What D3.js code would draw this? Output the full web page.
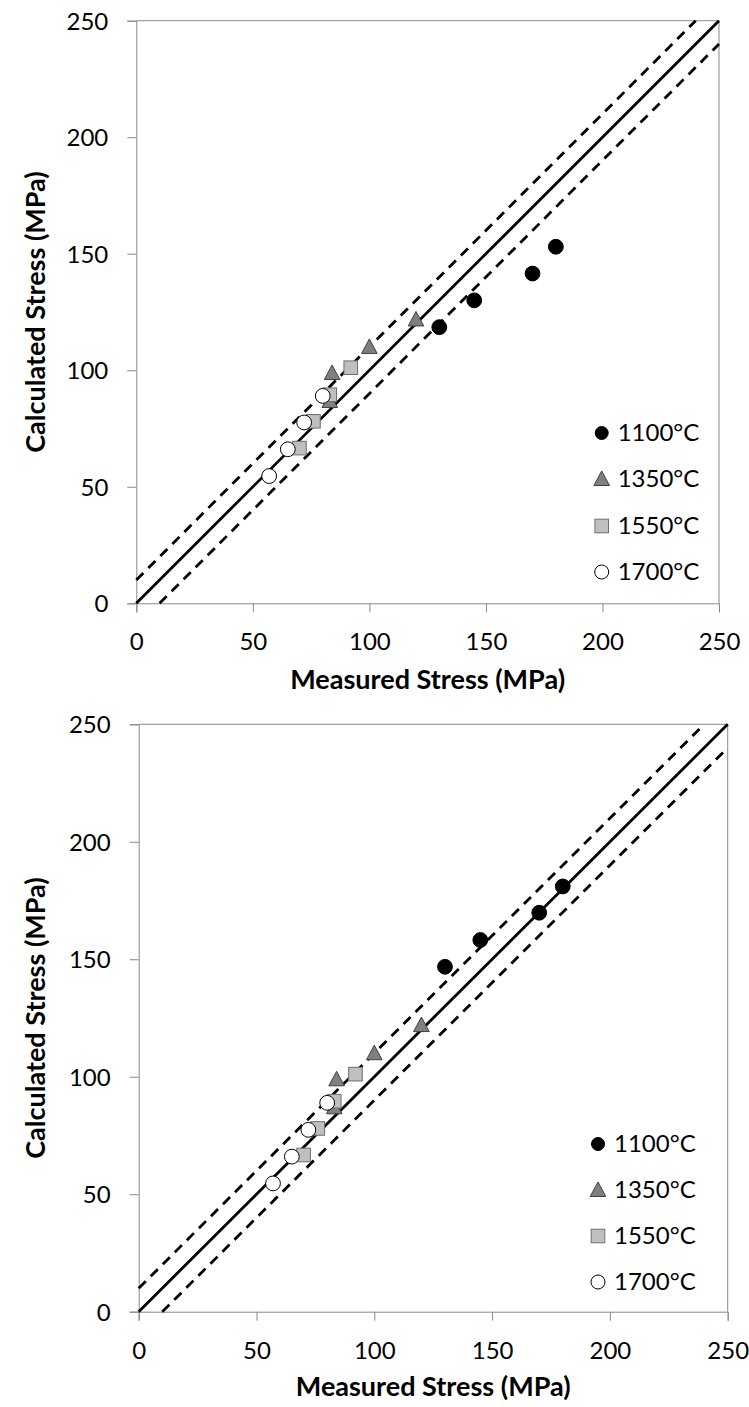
<!DOCTYPE html>
<html>
<head>
<meta charset="utf-8">
<script src="https://cdn.jsdelivr.net/npm/d3@7"></script>
<style>
  body { margin: 0; background: #fff; }
  svg { display: block; }
  text { font-family: Lato, "Open Sans", sans-serif; fill: #000; }
</style>
</head>
<body>
<div id="chart"></div>
<script>
'use strict';

// Series labels and axis ticks
var seriesNames = ['1100°C', '1350°C', '1550°C', '1700°C'];
var tickValues = [0, 50, 100, 150, 200, 250];

// Measured stress (x), shared by both panels
var measured1100 = [130, 145, 170, 180];
var measured1350 = [84, 83, 100, 120];
var measured1550 = [70, 76, 83, 92];
var measured1700 = [57, 65, 72, 80];

// Calculated stress (y), upper panel
var calcTop1100 = [118.5, 130, 141.5, 153];
var calcTop1350 = [98.8, 86.8, 110, 121.8];
var calcTop1550 = [66.6, 78.1, 89.5, 101.1];
var calcTop1700 = [54.6, 66.1, 77.6, 89];

// Calculated stress (y), lower panel
var calcBot1100 = [146.8, 158.2, 169.8, 181];
var calcBot1350 = [98.9, 87, 110, 122];
var calcBot1550 = [66.7, 78, 89.6, 101.1];
var calcBot1700 = [54.6, 66, 77.4, 88.9];

// Reference lines: y = x and y = x +/- 10
var refLines = [
    {x: [0, 250], y: [0, 250], dash: null},
    {x: [0, 240], y: [10, 250], dash: '10,7'},
    {x: [10, 250], y: [0, 240], dash: '10,7'}
];

var W = 749, H = 1407;
var svg = d3.select('#chart').append('svg').attr('width', W).attr('height', H);

var styles = [
    {shape: 'circle', fill: '#000', stroke: '#000'},
    {shape: 'triangle', fill: '#7f7f7f', stroke: '#404040'},
    {shape: 'square', fill: '#bfbfbf', stroke: '#6f6f6f'},
    {shape: 'circle', fill: '#fff', stroke: '#000'}
];

function zip(xs, ys) {
    return xs.map(function (x, i) { return {x: x, y: ys[i]}; });
}

function drawMarker(g, style, cx, cy, r) {
    r = r || 7.4;
    if (style.shape === 'circle') {
        g.append('circle').attr('cx', cx).attr('cy', cy).attr('r', r)
            .attr('fill', style.fill).attr('stroke', style.stroke).attr('stroke-width', 1);
    } else if (style.shape === 'square') {
        g.append('rect').attr('x', cx - 6.8).attr('y', cy - 6.8).attr('width', 13.6).attr('height', 13.6)
            .attr('fill', style.fill).attr('stroke', style.stroke).attr('stroke-width', 1);
    } else {
        g.append('path')
            .attr('d', 'M' + cx + ',' + (cy - 8) + 'L' + (cx + 7.8) + ',' + (cy + 6.5) + 'L' + (cx - 7.8) + ',' + (cy + 6.5) + 'Z')
            .attr('fill', style.fill).attr('stroke', style.stroke).attr('stroke-width', 1);
    }
}

function drawPanel(cfg) {
    var x = d3.scaleLinear().domain([0, 250]).range([cfg.left, cfg.left + cfg.width]);
    var y = d3.scaleLinear().domain([0, 250]).range([cfg.top + cfg.height, cfg.top]);
    var g = svg.append('g');

    // frame (top and right)
    g.append('path')
        .attr('d', 'M' + x(0) + ',' + y(250) + 'H' + x(250) + 'V' + y(0))
        .attr('fill', 'none').attr('stroke', '#898989').attr('stroke-width', 1);

    var xAxis = g.append('g')
        .attr('transform', 'translate(0,' + y(0) + ')')
        .call(d3.axisBottom(x).tickValues(tickValues).tickSize(9).tickPadding(21));
    var yAxis = g.append('g')
        .attr('transform', 'translate(' + x(0) + ',0)')
        .call(d3.axisLeft(y).tickValues(tickValues).tickSize(9).tickPadding(19));

    [xAxis, yAxis].forEach(function (a) {
        a.select('.domain').attr('stroke', '#898989');
        a.selectAll('.tick line').attr('stroke', '#898989');
        a.selectAll('.tick text').style('font-size', '24px').style('font-family', 'Lato, sans-serif').attr('fill', '#000');
    });
    yAxis.selectAll('.tick text').attr('dy', '0.35em');

    // reference lines
    refLines.forEach(function (l) {
        g.append('line')
            .attr('x1', x(l.x[0])).attr('y1', y(l.y[0]))
            .attr('x2', x(l.x[1])).attr('y2', y(l.y[1]))
            .attr('stroke', '#000').attr('stroke-width', 2.8)
            .attr('stroke-dasharray', l.dash);
    });

    // markers, in series order
    cfg.series.forEach(function (pts, i) {
        pts.forEach(function (p) {
            drawMarker(g, styles[i], x(p.x), y(p.y));
        });
    });

    // legend
    seriesNames.forEach(function (name, i) {
        var ly = cfg.legendY[i];
        drawMarker(g, styles[i], cfg.legendX, ly, i === 0 ? 6.5 : 7);
        g.append('text')
            .attr('x', cfg.legendX + 16).attr('y', ly).attr('dy', '0.35em')
            .style('font-size', '24px')
            .text(name);
    });

    // axis titles
    g.append('text')
        .attr('x', (x(0) + x(250)) / 2).attr('y', y(0) + cfg.xTitleGap)
        .attr('text-anchor', 'middle')
        .style('font-size', '27px').style('font-weight', 'bold')
        .text('Measured Stress (MPa)');
    g.append('text')
        .attr('transform', 'translate(' + 44.5 + ',' + ((y(0) + y(250)) / 2) + ') rotate(-90)')
        .attr('text-anchor', 'middle')
        .style('font-size', '27px').style('font-weight', 'bold')
        .text('Calculated Stress (MPa)');
}

drawPanel({
    left: 136.3, top: 20.7, width: 582.7, height: 582.6,
    legendX: 601.7, legendY: [433, 479, 526, 572], xTitleGap: 86,
    series: [
        zip(measured1100, calcTop1100),
        zip(measured1350, calcTop1350),
        zip(measured1550, calcTop1550),
        zip(measured1700, calcTop1700)
    ]
});

drawPanel({
    left: 138.7, top: 724.3, width: 589, height: 587.4,
    legendX: 598, legendY: [1144, 1190, 1236, 1282], xTitleGap: 84,
    series: [
        zip(measured1100, calcBot1100),
        zip(measured1350, calcBot1350),
        zip(measured1550, calcBot1550),
        zip(measured1700, calcBot1700)
    ]
});
</script>
</body>
</html>
